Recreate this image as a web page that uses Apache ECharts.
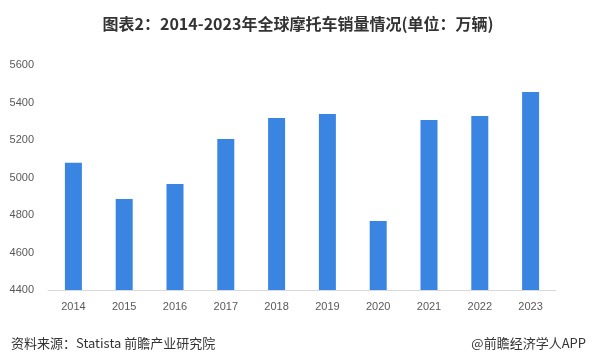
<!DOCTYPE html>
<html><head><meta charset="utf-8">
<script src="https://cdn.jsdelivr.net/npm/echarts@6/dist/echarts.min.js"></script>
<style>html,body{margin:0;padding:0;background:#fff}#c{width:596px;height:362px}</style>
</head><body><div id="c"></div>
<script>
const categories = ['2014','2015','2016','2017','2018','2019','2020','2021','2022','2023'];
const sales = [5079, 4885, 4965, 5205, 5317, 5339, 4768, 5307, 5328, 5456];
const yTicks = [4400, 4600, 4800, 5000, 5200, 5400, 5600];
const titleText = '图表2：2014-2023年全球摩托车销量情况(单位：万辆)';
const sourceText = '资料来源：Statista 前瞻产业研究院';
const brandText = '@前瞻经济学人APP';

const chart = echarts.init(document.getElementById('c'), null, {renderer:'canvas'});
chart.setOption({
  animation:false,
  backgroundColor:'#fff',
  title:[
    {text:titleText,left:'center',top:11,textStyle:{fontSize:16,fontWeight:'bold',color:'#333',fontFamily:'"Noto Sans CJK SC", sans-serif'}},
    {text:sourceText,left:6,top:332,textStyle:{fontSize:13,fontWeight:'normal',color:'#333',fontFamily:'"Noto Sans CJK SC", sans-serif'}},
    {text:brandText,right:5,top:332,textStyle:{fontSize:13,fontWeight:'normal',color:'#333',fontFamily:'"Noto Sans CJK SC", sans-serif'}}
  ],
  grid:{left:48,right:40,top:65,bottom:72,containLabel:false},
  xAxis:{type:'category',data:categories,
    axisLine:{lineStyle:{color:'#d9d9d9',width:1}},axisTick:{show:false},
    axisLabel:{color:'#595959',fontSize:11,margin:11,fontFamily:'"Liberation Sans", sans-serif'}},
  yAxis:{type:'value',min:yTicks[0],max:yTicks[yTicks.length-1],interval:200,
    splitLine:{show:false},axisLine:{show:false},axisTick:{show:false},
    axisLabel:{color:'#595959',fontSize:11,margin:14,formatter:v=>String(v),fontFamily:'"Liberation Sans", sans-serif'}},
  series:[{type:'bar',data:sales,barWidth:17,itemStyle:{color:'#3a84e2'}}]
});
</script></body></html>
